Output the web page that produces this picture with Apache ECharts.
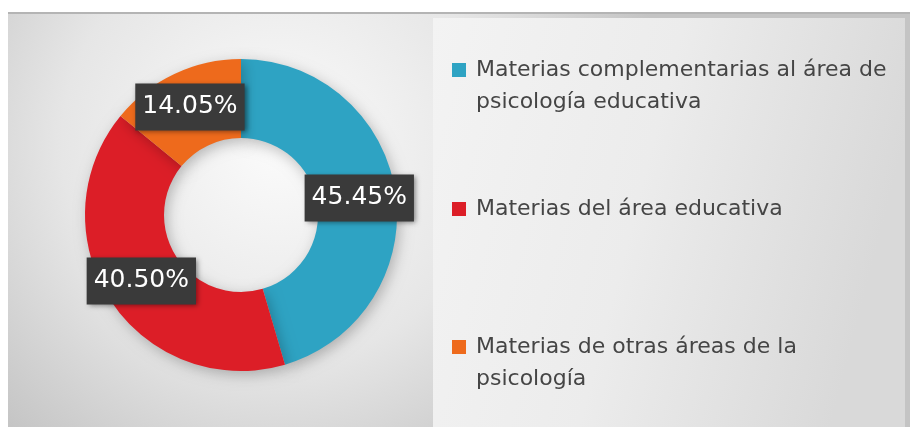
<!DOCTYPE html>
<html>
<head>
<meta charset="utf-8">
<script src="https://cdn.jsdelivr.net/npm/echarts@6/dist/echarts.min.js"></script>
<style>
  html, body { margin: 0; padding: 0; background: #fff; }
  #chart { width: 912px; height: 427px; }
</style>
</head>
<body>
<div id="chart"></div>
<script>
// datos
var categories = [
    'Materias complementarias al área de\npsicología educativa',
    'Materias del área educativa',
    'Materias de otras áreas de la\npsicología'
];
var values = [45.45, 40.50, 14.05];
var colors = ['#2ea3c3', '#dc1e27', '#ee6a1c'];

var pieData = categories.map(function (name, i) {
    return { name: name, value: values[i], itemStyle: { color: colors[i] } };
});

// una leyenda por elemento para poder colocarlas como en la imagen
function makeLegend(name, top, twoLines) {
    return {
        data: [name],
        left: 452,
        top: top,
        padding: 0,
        orient: 'vertical',
        itemWidth: 14,
        itemHeight: 14,
        icon: 'rect',
        selectedMode: false,
        // línea vacía arriba para que el cuadrito quede a la altura de la primera línea
        formatter: function (n) {
            return twoLines ? '\n' + n : n;
        },
        textStyle: {
            fontFamily: 'DejaVu Sans',
            fontSize: 22,
            color: '#454545',
            lineHeight: 32,
            padding: [0, 0, 0, 5]
        }
    };
}

var chart = echarts.init(document.getElementById('chart'));

var option = {
    backgroundColor: '#ffffff',
    animation: false,
    graphic: [
        {
            type: 'rect',
            z: -10,
            shape: { x: 8, y: 12, width: 902, height: 415 },
            style: {
                fill: {
                    type: 'radial', x: 0.3, y: 0.32, r: 0.95,
                    colorStops: [
                        { offset: 0, color: '#fbfbfb' },
                        { offset: 0.55, color: '#e6e6e6' },
                        { offset: 1, color: '#c4c4c4' }
                    ]
                }
            }
        },
        {
            type: 'rect',
            z: -9,
            shape: { x: 8, y: 12, width: 902, height: 2 },
            style: { fill: '#b4b4b4' }
        },
        {
            type: 'rect',
            z: -8,
            shape: { x: 433, y: 18, width: 472, height: 409 },
            style: {
                fill: {
                    type: 'linear', x: 0, y: 0, x2: 1, y2: 0.3,
                    colorStops: [
                        { offset: 0, color: '#f3f3f3' },
                        { offset: 0.5, color: '#ececec' },
                        { offset: 1, color: '#d9d9d9' }
                    ]
                }
            }
        }
    ],
    legend: [
        makeLegend(categories[0], 22, true),
        makeLegend(categories[1], 193, false),
        makeLegend(categories[2], 299, true)
    ],
    series: [
        {
            type: 'pie',
            center: [241, 215],
            radius: [77, 156],
            startAngle: 90,
            clockwise: true,
            avoidLabelOverlap: false,
            itemStyle: {
                shadowBlur: 14,
                shadowColor: 'rgba(0,0,0,0.25)',
                shadowOffsetX: 3,
                shadowOffsetY: 4
            },
            label: {
                show: true,
                position: 'inside',
                formatter: function (p) {
                    return p.value.toFixed(2) + '%';
                },
                fontFamily: 'DejaVu Sans',
                fontSize: 25,
                color: '#ffffff',
                backgroundColor: '#3a3a3a',
                padding: [12, 7, 10, 7],
                shadowBlur: 5,
                shadowColor: 'rgba(0,0,0,0.45)',
                shadowOffsetX: 2,
                shadowOffsetY: 2
            },
            labelLine: { show: false },
            emphasis: { disabled: true },
            data: pieData
        }
    ]
};

chart.setOption(option);
</script>
</body>
</html>
